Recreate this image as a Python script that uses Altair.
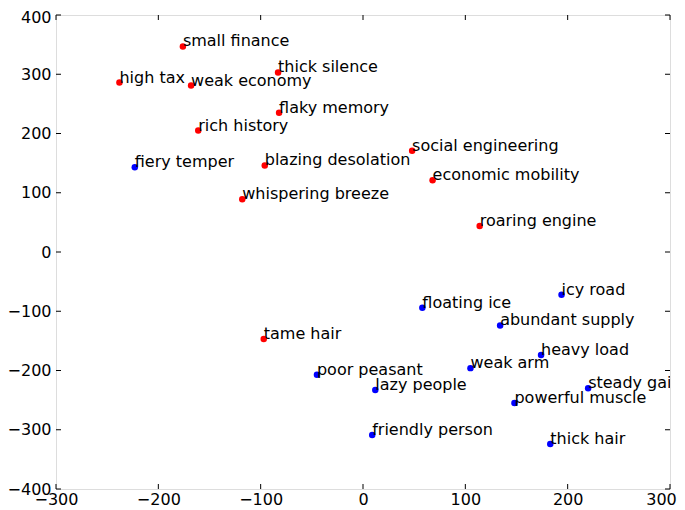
import altair as alt
import pandas as pd

labels = ["small finance", "high tax", "weak economy", "thick silence", "flaky memory",
          "rich history", "fiery temper", "blazing desolation", "whispering breeze",
          "social engineering", "economic mobility", "roaring engine", "tame hair",
          "poor peasant", "floating ice", "icy road", "abundant supply", "heavy load",
          "weak arm", "lazy people", "steady gait", "powerful muscle", "friendly person",
          "thick hair"]
xs = [-176, -238, -168, -83, -82, -161, -223, -96, -118, 48, 68, 114, -97,
      -45, 58, 194, 134, 174, 105, 12, 220, 148, 9, 183]
ys = [347, 286, 281, 303, 235, 205, 143, 146, 89, 171, 121, 44, -147,
      -207, -94, -72, -124, -174, -196, -233, -230, -255, -309, -324]
groups = ["red", "red", "red", "red", "red", "red", "blue", "red", "red", "red", "red", "red", "red",
          "blue", "blue", "blue", "blue", "blue", "blue", "blue", "blue", "blue", "blue", "blue"]

x_ticks = [-300, -200, -100, 0, 100, 200, 300]
y_ticks = [-400, -300, -200, -100, 0, 100, 200, 300, 400]

df = pd.DataFrame({"label": labels, "x": xs, "y": ys, "group": groups})
xt = pd.DataFrame({"t": x_ticks})
yt = pd.DataFrame({"t": y_ticks})

W, H = 614, 474
TL = 5
FONT = "DejaVu Sans"

xscale = alt.Scale(domain=[-300, 300], nice=False, zero=False)
yscale = alt.Scale(domain=[-400, 400], nice=False, zero=False)

xaxis = alt.Axis(values=x_ticks, ticks=False, domain=False, grid=False, labelFont=FONT,
                 labelFontSize=16, labelColor="#000", labelPadding=2, title=None,
                 labelFlush=False, labelOverlap=False,
                 labelOffset=alt.expr("datum.value == 300 ? -9 : 0"))
yaxis = alt.Axis(values=y_ticks, ticks=False, domain=False, grid=False, labelFont=FONT,
                 labelFontSize=16, labelColor="#000", labelPadding=5, title=None,
                 labelFlush=False, labelOverlap=False,
                 labelOffset=alt.expr("datum.value == 400 ? 2 : 0"))

base = alt.Chart(df)

pts = base.mark_circle(size=42, opacity=1).encode(
    x=alt.X("x:Q", scale=xscale, axis=xaxis),
    y=alt.Y("y:Q", scale=yscale, axis=yaxis),
    color=alt.Color("group:N", scale=alt.Scale(domain=["red", "blue"], range=["#ff0000", "#0000ff"]), legend=None),
)

txt = base.mark_text(align="left", baseline="alphabetic", font=FONT, fontSize=16,
                     color="#000", clip=True).encode(
    x=alt.X("x:Q", scale=xscale),
    y=alt.Y("y:Q", scale=yscale),
    text="label:N",
)

xb = alt.Chart(xt).mark_rule(color="#000", strokeWidth=1).encode(
    x=alt.X("t:Q", scale=xscale), y=alt.value(H), y2=alt.value(H - TL))
xtop = alt.Chart(xt).mark_rule(color="#000", strokeWidth=1).encode(
    x=alt.X("t:Q", scale=xscale), y=alt.value(0), y2=alt.value(TL))
yl = alt.Chart(yt).mark_rule(color="#000", strokeWidth=1).encode(
    y=alt.Y("t:Q", scale=yscale), x=alt.value(0), x2=alt.value(TL))
yr = alt.Chart(yt).mark_rule(color="#000", strokeWidth=1).encode(
    y=alt.Y("t:Q", scale=yscale), x=alt.value(W), x2=alt.value(W - TL))

chart = alt.layer(xb, xtop, yl, yr, pts, txt).properties(
    width=W, height=H,
    autosize=alt.AutoSizeParams(type="none"),
    padding={"left": 48, "top": 7, "right": 7, "bottom": 20},
).configure_view(stroke="#222", strokeWidth=1.2).configure(background="white")

chart.save("out.html", embed_options={"renderer": "svg", "actions": False})
